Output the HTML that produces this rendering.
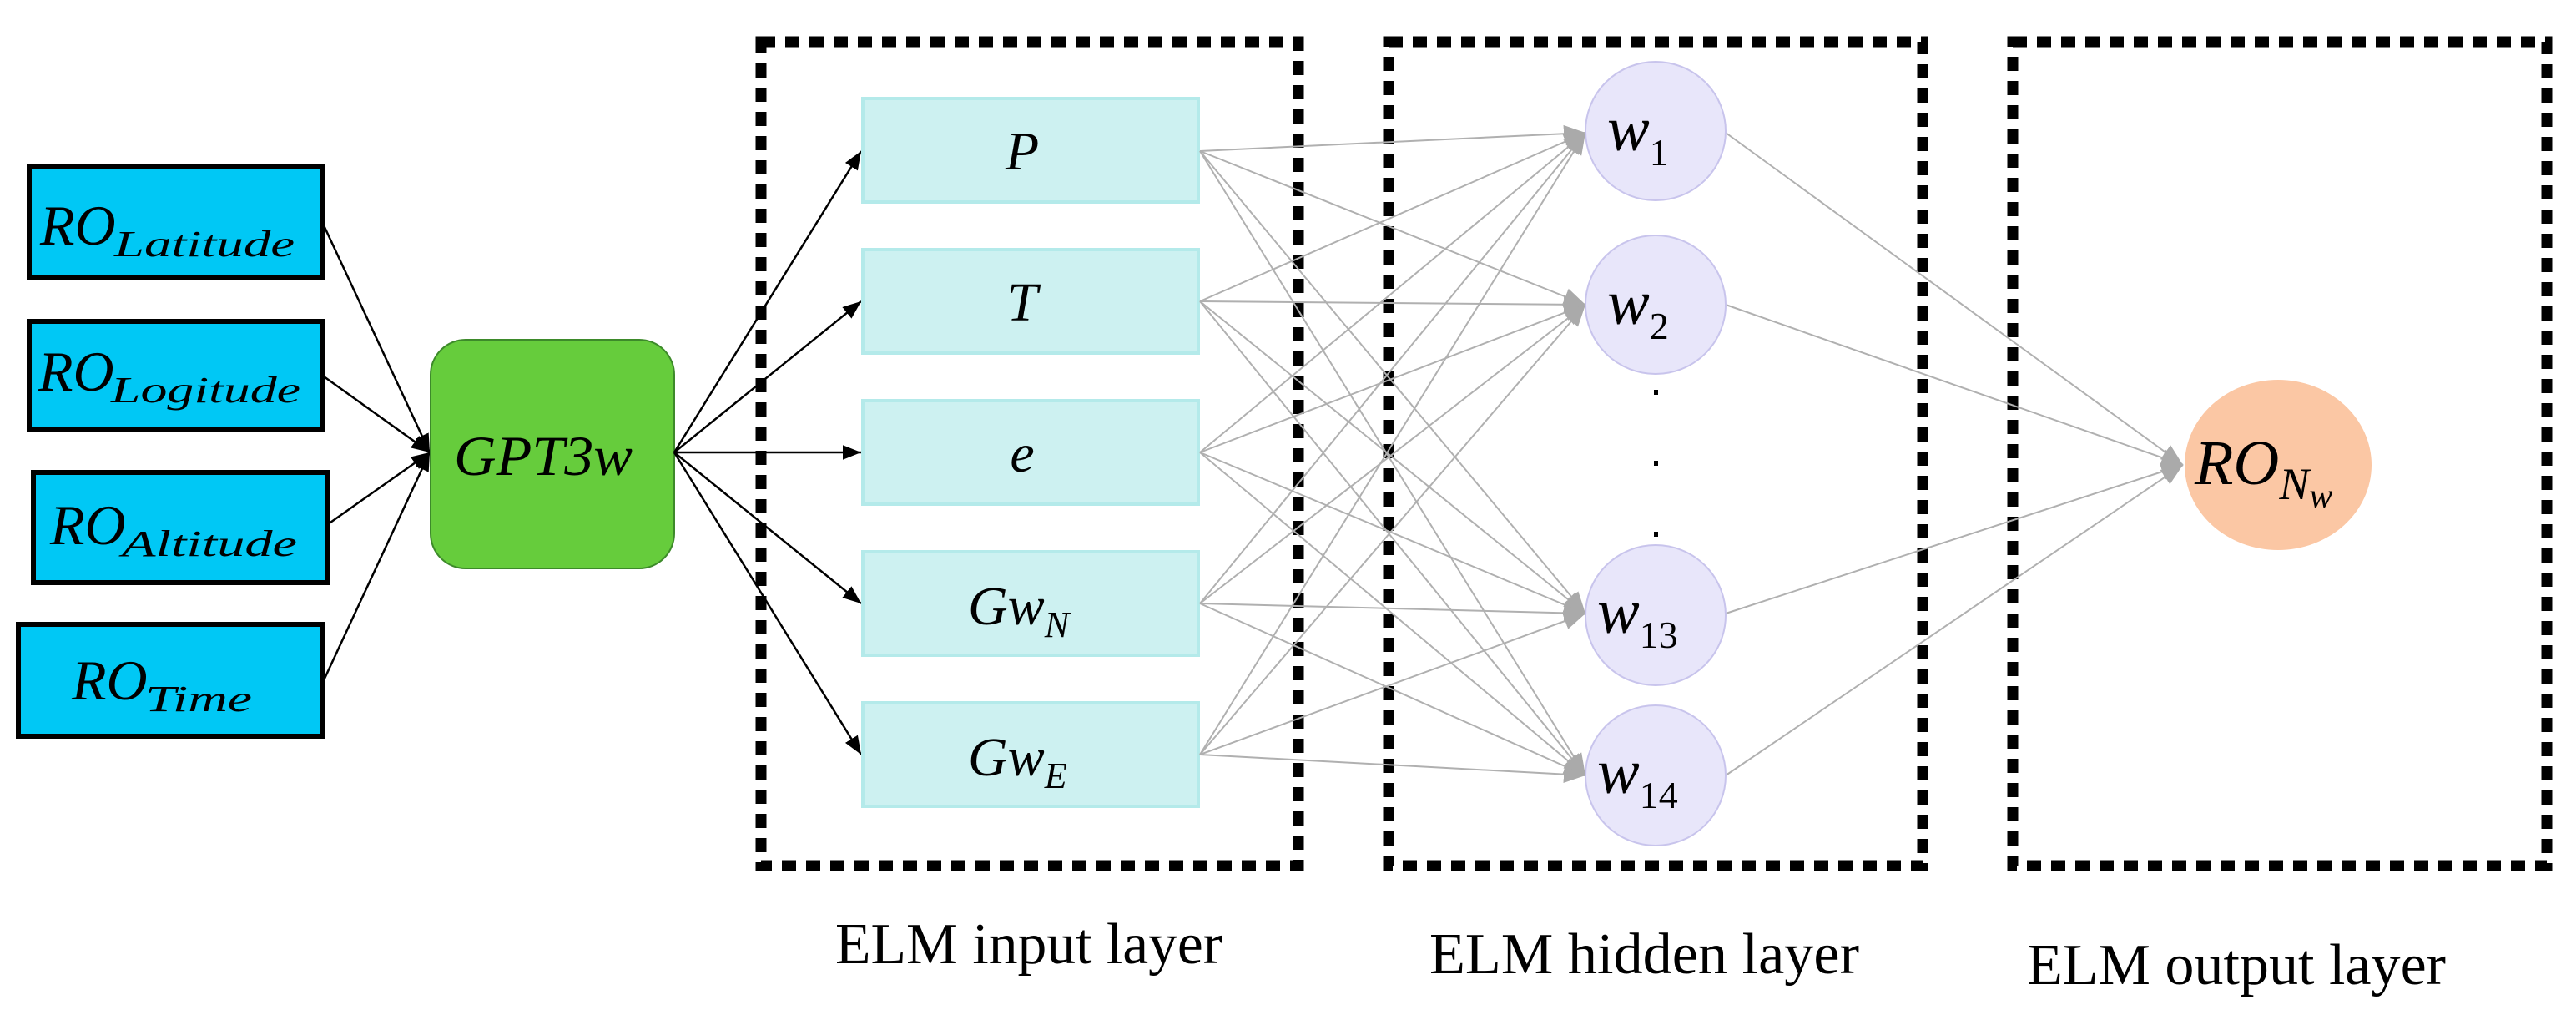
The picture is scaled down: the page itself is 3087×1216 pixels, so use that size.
<!DOCTYPE html>
<html><head><meta charset="utf-8"><style>
html,body{margin:0;padding:0;background:#fff;}
svg{display:block;}
.m{font-family:"Liberation Serif",serif;font-style:italic;fill:#000;}
.l{font-family:"Liberation Serif",serif;fill:#000;}
</style></head><body>
<svg width="3087" height="1216" viewBox="0 0 3087 1216" xmlns="http://www.w3.org/2000/svg">
<defs>
<marker id="blk" viewBox="0 0 10 10" refX="10" refY="5" markerWidth="22" markerHeight="22" markerUnits="userSpaceOnUse" orient="auto"><path d="M0,1 L10,5 L0,9 z" fill="#000"/></marker>
<marker id="gry" viewBox="0 0 10 10" refX="10" refY="5" markerWidth="26" markerHeight="26" markerUnits="userSpaceOnUse" orient="auto"><path d="M0,1 L10,5 L0,9 z" fill="#aaa"/></marker>
</defs>

<!-- dashed layer boxes -->
<g fill="none" stroke="#000" stroke-width="13" stroke-dasharray="17 12">
<rect x="912" y="50" width="644" height="987"/>
<rect x="1664" y="50" width="640" height="987"/>
<rect x="2412" y="50" width="640" height="987"/>
</g>

<!-- input blue boxes -->
<g fill="#00c8f5" stroke="#000" stroke-width="6">
<rect x="35" y="200" width="351" height="132"/>
<rect x="35" y="385" width="351" height="129"/>
<rect x="40" y="566" width="352" height="132"/>
<rect x="22" y="748" width="364" height="134"/>
</g>
<g class="m" fill="#0b1630">
<text x="48" y="293" font-size="68">RO</text>
<text x="137" y="307" font-size="44" textLength="216" lengthAdjust="spacingAndGlyphs">Latitude</text>
<text x="46" y="468" font-size="68">RO</text>
<text x="133" y="482" font-size="44" textLength="227" lengthAdjust="spacingAndGlyphs">Logitude</text>
<text x="60" y="652" font-size="68">RO</text>
<text x="146" y="666" font-size="44" textLength="210" lengthAdjust="spacingAndGlyphs">Altitude</text>
<text x="86" y="838" font-size="68">RO</text>
<text x="174" y="852" font-size="44" textLength="128" lengthAdjust="spacingAndGlyphs">Time</text>
</g>

<!-- arrows to GPT -->
<g stroke="#000" stroke-width="2.5" marker-end="url(#blk)">
<line x1="388" y1="270" x2="515" y2="542"/>
<line x1="388" y1="451" x2="515" y2="542"/>
<line x1="393" y1="628" x2="515" y2="542"/>
<line x1="388" y1="815" x2="515" y2="542"/>
</g>

<!-- GPT3w -->
<rect x="516" y="407" width="292" height="274" rx="42" fill="#66cc3c" stroke="#3d8a2a" stroke-width="2"/>
<text class="m" x="544" y="569" font-size="68" textLength="214" lengthAdjust="spacingAndGlyphs">GPT3w</text>

<!-- arrows to inputs -->
<g stroke="#000" stroke-width="2.5" marker-end="url(#blk)">
<line x1="808" y1="542" x2="1032" y2="181"/>
<line x1="808" y1="542" x2="1032" y2="361"/>
<line x1="808" y1="542" x2="1032" y2="542"/>
<line x1="808" y1="542" x2="1032" y2="723"/>
<line x1="808" y1="542" x2="1032" y2="904"/>
</g>

<!-- input layer boxes -->
<g fill="#cdf1f1" stroke="#b4eaea" stroke-width="4">
<rect x="1034" y="118" width="402" height="124"/>
<rect x="1034" y="299" width="402" height="124"/>
<rect x="1034" y="480" width="402" height="124"/>
<rect x="1034" y="661" width="402" height="124"/>
<rect x="1034" y="842" width="402" height="124"/>
</g>
<g class="m" font-size="66">
<text x="1225" y="203" text-anchor="middle">P</text>
<text x="1225" y="384" text-anchor="middle">T</text>
<text x="1225" y="565" text-anchor="middle">e</text>
<text x="1160" y="748">Gw<tspan font-size="44" dy="15">N</tspan></text>
<text x="1160" y="929">Gw<tspan font-size="44" dy="15">E</tspan></text>
</g>

<!-- input -> hidden -->
<g stroke="#b0b0b0" stroke-width="2" marker-end="url(#gry)">
<line x1="1438" y1="181" x2="1900" y2="159"/>
<line x1="1438" y1="181" x2="1900" y2="365"/>
<line x1="1438" y1="181" x2="1900" y2="735"/>
<line x1="1438" y1="181" x2="1900" y2="929"/>
<line x1="1438" y1="361" x2="1900" y2="159"/>
<line x1="1438" y1="361" x2="1900" y2="365"/>
<line x1="1438" y1="361" x2="1900" y2="735"/>
<line x1="1438" y1="361" x2="1900" y2="929"/>
<line x1="1438" y1="542" x2="1900" y2="159"/>
<line x1="1438" y1="542" x2="1900" y2="365"/>
<line x1="1438" y1="542" x2="1900" y2="735"/>
<line x1="1438" y1="542" x2="1900" y2="929"/>
<line x1="1438" y1="723" x2="1900" y2="159"/>
<line x1="1438" y1="723" x2="1900" y2="365"/>
<line x1="1438" y1="723" x2="1900" y2="735"/>
<line x1="1438" y1="723" x2="1900" y2="929"/>
<line x1="1438" y1="904" x2="1900" y2="159"/>
<line x1="1438" y1="904" x2="1900" y2="365"/>
<line x1="1438" y1="904" x2="1900" y2="735"/>
<line x1="1438" y1="904" x2="1900" y2="929"/>
</g>

<!-- hidden -> output -->
<g stroke="#b0b0b0" stroke-width="2" marker-end="url(#gry)">
<line x1="2068" y1="159" x2="2616" y2="557"/>
<line x1="2068" y1="365" x2="2616" y2="557"/>
<line x1="2068" y1="735" x2="2616" y2="557"/>
<line x1="2068" y1="929" x2="2616" y2="557"/>
</g>

<!-- hidden nodes -->
<g fill="#e8e6fa" stroke="#c8c4ec" stroke-width="2">
<ellipse cx="1984" cy="157" rx="84" ry="83"/>
<ellipse cx="1984" cy="365" rx="84" ry="83"/>
<ellipse cx="1984" cy="737" rx="84" ry="84"/>
<ellipse cx="1984" cy="929" rx="84" ry="84"/>
</g>
<g class="m" font-size="76">
<text x="1926" y="180">w<tspan class="l" font-style="normal" font-size="46" dy="18">1</tspan></text>
<text x="1926" y="388">w<tspan class="l" font-style="normal" font-size="46" dy="18">2</tspan></text>
<text x="1914" y="758">w<tspan class="l" font-style="normal" font-size="46" dy="18">13</tspan></text>
<text x="1914" y="950">w<tspan class="l" font-style="normal" font-size="46" dy="18">14</tspan></text>
</g>
<g fill="#000">
<rect x="1982" y="467" width="5" height="6"/>
<rect x="1982" y="552" width="5" height="6"/>
<rect x="1982" y="637" width="5" height="6"/>
</g>

<!-- output node -->
<ellipse cx="2730" cy="557" rx="112" ry="102" fill="#fbc7a4"/>
<text class="m" x="2630" y="580" font-size="76">RO<tspan font-size="54" dy="18">N</tspan><tspan font-size="42" dy="10">w</tspan></text>

<!-- labels -->
<text class="l" x="1001" y="1154" font-size="70" textLength="464" lengthAdjust="spacingAndGlyphs">ELM input layer</text>
<text class="l" x="1713" y="1166" font-size="70" textLength="515" lengthAdjust="spacingAndGlyphs">ELM hidden layer</text>
<text class="l" x="2429" y="1179" font-size="70" textLength="502" lengthAdjust="spacingAndGlyphs">ELM output layer</text>
</svg>
</body></html>
